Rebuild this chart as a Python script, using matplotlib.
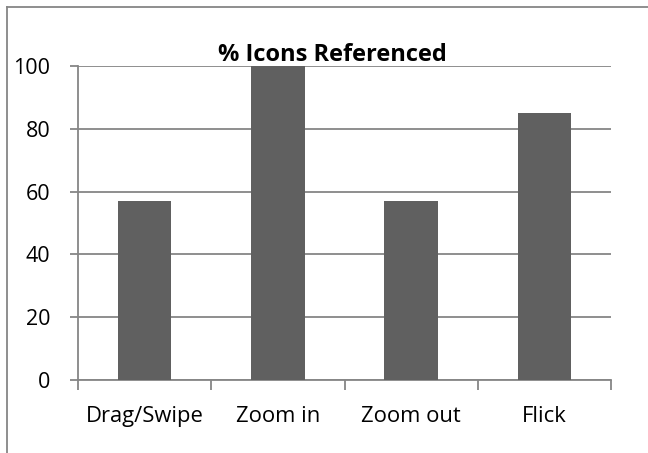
import matplotlib.pyplot as plt
from matplotlib.lines import Line2D

categories = ['Drag/Swipe', 'Zoom in', 'Zoom out', 'Flick']
values = [57, 100, 57, 85]
y_ticks = [0, 20, 40, 60, 80, 100]

plt.rcParams['font.family'] = ['Open Sans', 'DejaVu Sans']

fig = plt.figure(figsize=(6.48, 4.53), dpi=100)
W, H = 648, 453
ax = fig.add_axes([78 / W, 1 - 380 / H, (611 - 78) / W, (380 - 66) / H])

grid_c = '#868686'
x = range(len(categories))
ax.bar(x, values, width=0.4, color='#606060', zorder=3)

ax.set_xlim(-0.5, len(categories) - 0.5)
ax.set_ylim(0, 100)
ax.set_yticks(y_ticks)
ax.set_yticklabels([str(v) for v in y_ticks], fontsize=15.5)
ax.yaxis.grid(True, color=grid_c, linewidth=1.3, zorder=0)
ax.tick_params(axis='y', length=6, color=grid_c, width=1.3, pad=14)

# category boundaries as x ticks, labels at centers
ax.set_xticks([i - 0.5 for i in range(len(categories) + 1)])
ax.set_xticklabels([])
ax.set_xticks(list(x), minor=True)
ax.set_xticklabels(categories, minor=True, fontsize=15.8)
ax.tick_params(axis='x', which='major', length=7, color=grid_c, width=1.3)
ax.tick_params(axis='x', which='minor', length=0, pad=19)

for s in ['top', 'right']:
    ax.spines[s].set_visible(False)
for s in ['left', 'bottom']:
    ax.spines[s].set_color(grid_c)
    ax.spines[s].set_linewidth(1.3)

fig.text(332 / W, 1 - 55 / H, '% Icons Referenced', ha='center', va='center',
         fontsize=17, fontweight='bold')

# chart area border (only top and left visible in the crop)
fig.add_artist(Line2D([7 / W, 1], [1 - 7 / H, 1 - 7 / H], color=grid_c, linewidth=1.3))
fig.add_artist(Line2D([7 / W, 7 / W], [0, 1 - 7 / H], color=grid_c, linewidth=1.3))

fig.savefig('out.png', dpi=100)
